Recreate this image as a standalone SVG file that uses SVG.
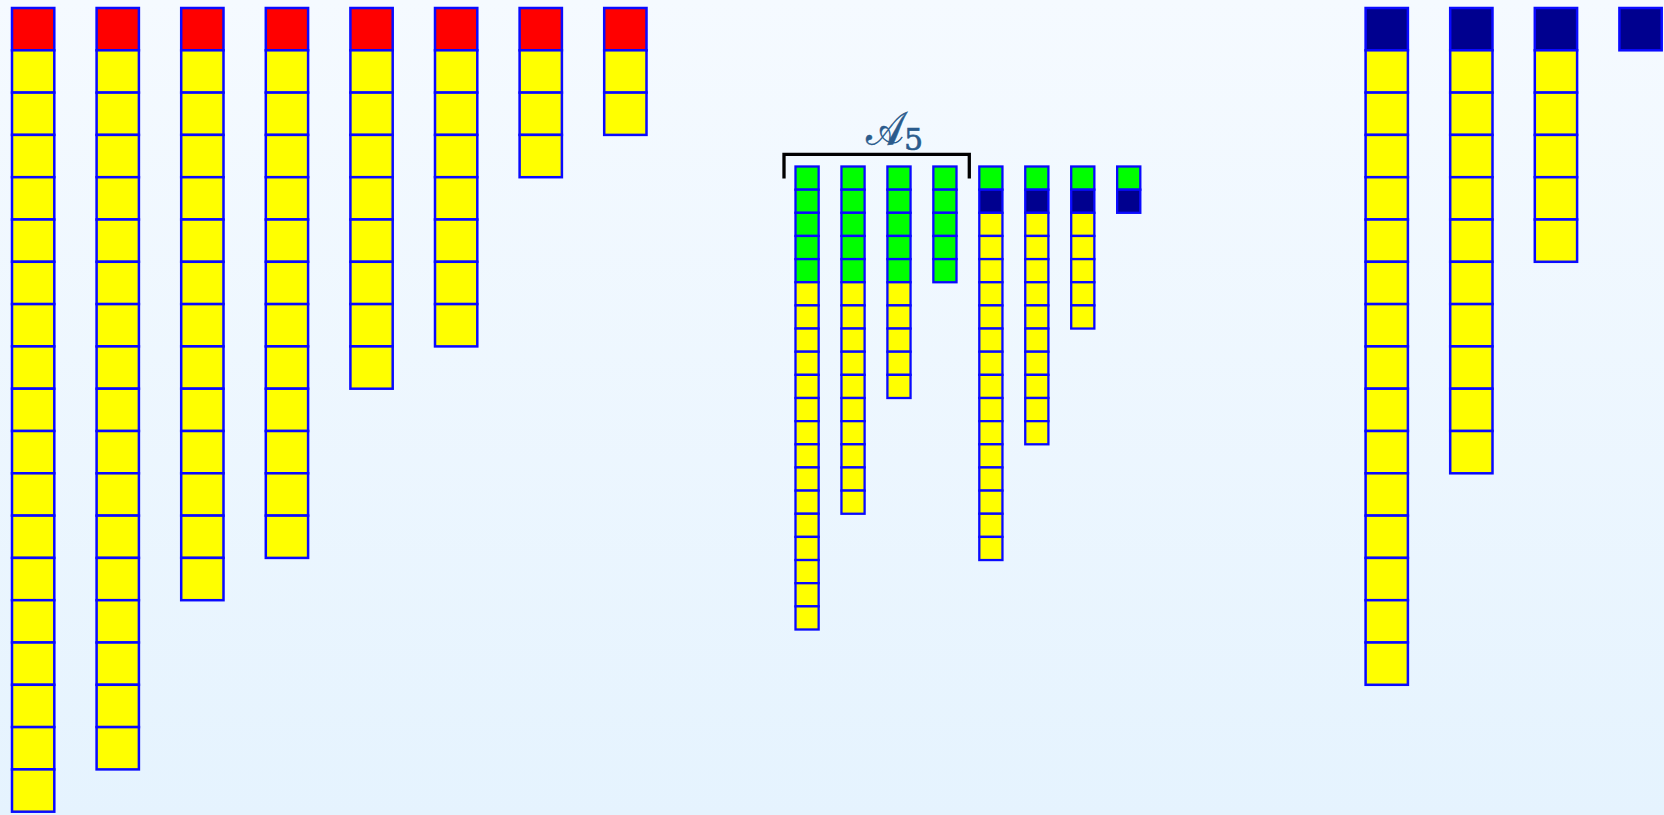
<svg xmlns="http://www.w3.org/2000/svg" xmlns:xlink="http://www.w3.org/1999/xlink" width="1664" height="815" viewBox="0 0 1664 815">
<defs>
<linearGradient id="bg" x1="0" y1="0" x2="0" y2="1">
<stop offset="0" stop-color="#f5faff"/>
<stop offset="1" stop-color="#e5f3fe"/>
</linearGradient>
<rect id="B" width="42.3" height="42.3"/>
<rect id="S" width="23.15" height="23.15"/>
</defs>
<style>
use{stroke:#0a0aff;stroke-width:2.5}
.s use{stroke-width:2.3}
.r{fill:#ff0000}
.y{fill:#ffff00}
.g{fill:#00ff00}
.n{fill:#00008f}
.br{fill:none;stroke:#000;stroke-width:3.3}
.lbl{fill:#2a5b8c;stroke:#2a5b8c;stroke-width:0.6;font-family:"DejaVu Serif","Liberation Serif",serif}
</style>
<rect width="1664" height="815" fill="url(#bg)"/>
<g id="col1" transform="translate(12,0)">
<use href="#B" class="r" y="8"/><use href="#B" class="y" y="50.3"/><use href="#B" class="y" y="92.6"/><use href="#B" class="y" y="134.9"/><use href="#B" class="y" y="177.2"/><use href="#B" class="y" y="219.5"/><use href="#B" class="y" y="261.8"/><use href="#B" class="y" y="304.1"/><use href="#B" class="y" y="346.4"/><use href="#B" class="y" y="388.7"/><use href="#B" class="y" y="431"/><use href="#B" class="y" y="473.3"/><use href="#B" class="y" y="515.6"/><use href="#B" class="y" y="557.9"/><use href="#B" class="y" y="600.2"/><use href="#B" class="y" y="642.5"/><use href="#B" class="y" y="684.8"/><use href="#B" class="y" y="727.1"/><use href="#B" class="y" y="769.4"/>
</g>
<g id="col2" transform="translate(96.6,0)">
<use href="#B" class="r" y="8"/><use href="#B" class="y" y="50.3"/><use href="#B" class="y" y="92.6"/><use href="#B" class="y" y="134.9"/><use href="#B" class="y" y="177.2"/><use href="#B" class="y" y="219.5"/><use href="#B" class="y" y="261.8"/><use href="#B" class="y" y="304.1"/><use href="#B" class="y" y="346.4"/><use href="#B" class="y" y="388.7"/><use href="#B" class="y" y="431"/><use href="#B" class="y" y="473.3"/><use href="#B" class="y" y="515.6"/><use href="#B" class="y" y="557.9"/><use href="#B" class="y" y="600.2"/><use href="#B" class="y" y="642.5"/><use href="#B" class="y" y="684.8"/><use href="#B" class="y" y="727.1"/>
</g>
<g id="col3" transform="translate(181.2,0)">
<use href="#B" class="r" y="8"/><use href="#B" class="y" y="50.3"/><use href="#B" class="y" y="92.6"/><use href="#B" class="y" y="134.9"/><use href="#B" class="y" y="177.2"/><use href="#B" class="y" y="219.5"/><use href="#B" class="y" y="261.8"/><use href="#B" class="y" y="304.1"/><use href="#B" class="y" y="346.4"/><use href="#B" class="y" y="388.7"/><use href="#B" class="y" y="431"/><use href="#B" class="y" y="473.3"/><use href="#B" class="y" y="515.6"/><use href="#B" class="y" y="557.9"/>
</g>
<g id="col4" transform="translate(265.8,0)">
<use href="#B" class="r" y="8"/><use href="#B" class="y" y="50.3"/><use href="#B" class="y" y="92.6"/><use href="#B" class="y" y="134.9"/><use href="#B" class="y" y="177.2"/><use href="#B" class="y" y="219.5"/><use href="#B" class="y" y="261.8"/><use href="#B" class="y" y="304.1"/><use href="#B" class="y" y="346.4"/><use href="#B" class="y" y="388.7"/><use href="#B" class="y" y="431"/><use href="#B" class="y" y="473.3"/><use href="#B" class="y" y="515.6"/>
</g>
<g id="col5" transform="translate(350.4,0)">
<use href="#B" class="r" y="8"/><use href="#B" class="y" y="50.3"/><use href="#B" class="y" y="92.6"/><use href="#B" class="y" y="134.9"/><use href="#B" class="y" y="177.2"/><use href="#B" class="y" y="219.5"/><use href="#B" class="y" y="261.8"/><use href="#B" class="y" y="304.1"/><use href="#B" class="y" y="346.4"/>
</g>
<g id="col6" transform="translate(435,0)">
<use href="#B" class="r" y="8"/><use href="#B" class="y" y="50.3"/><use href="#B" class="y" y="92.6"/><use href="#B" class="y" y="134.9"/><use href="#B" class="y" y="177.2"/><use href="#B" class="y" y="219.5"/><use href="#B" class="y" y="261.8"/><use href="#B" class="y" y="304.1"/>
</g>
<g id="col7" transform="translate(519.6,0)">
<use href="#B" class="r" y="8"/><use href="#B" class="y" y="50.3"/><use href="#B" class="y" y="92.6"/><use href="#B" class="y" y="134.9"/>
</g>
<g id="col8" transform="translate(604.2,0)">
<use href="#B" class="r" y="8"/><use href="#B" class="y" y="50.3"/><use href="#B" class="y" y="92.6"/>
</g>
<g id="label-A5">
<path class="br" d="M784,178.5 V154.3 H969.3 V178.5"/>
<text class="lbl" transform="translate(866,145) scale(0.85,1)" font-size="47">𝒜</text>
<text class="lbl" x="904" y="150" font-size="30">5</text>
</g>
<g id="mcol1" class="s" transform="translate(795.5,0)">
<use href="#S" class="g" y="166.5"/><use href="#S" class="g" y="189.65"/><use href="#S" class="g" y="212.8"/><use href="#S" class="g" y="235.95"/><use href="#S" class="g" y="259.1"/><use href="#S" class="y" y="282.25"/><use href="#S" class="y" y="305.4"/><use href="#S" class="y" y="328.55"/><use href="#S" class="y" y="351.7"/><use href="#S" class="y" y="374.85"/><use href="#S" class="y" y="398"/><use href="#S" class="y" y="421.15"/><use href="#S" class="y" y="444.3"/><use href="#S" class="y" y="467.45"/><use href="#S" class="y" y="490.6"/><use href="#S" class="y" y="513.75"/><use href="#S" class="y" y="536.9"/><use href="#S" class="y" y="560.05"/><use href="#S" class="y" y="583.2"/><use href="#S" class="y" y="606.35"/>
</g>
<g id="mcol2" class="s" transform="translate(841.45,0)">
<use href="#S" class="g" y="166.5"/><use href="#S" class="g" y="189.65"/><use href="#S" class="g" y="212.8"/><use href="#S" class="g" y="235.95"/><use href="#S" class="g" y="259.1"/><use href="#S" class="y" y="282.25"/><use href="#S" class="y" y="305.4"/><use href="#S" class="y" y="328.55"/><use href="#S" class="y" y="351.7"/><use href="#S" class="y" y="374.85"/><use href="#S" class="y" y="398"/><use href="#S" class="y" y="421.15"/><use href="#S" class="y" y="444.3"/><use href="#S" class="y" y="467.45"/><use href="#S" class="y" y="490.6"/>
</g>
<g id="mcol3" class="s" transform="translate(887.4,0)">
<use href="#S" class="g" y="166.5"/><use href="#S" class="g" y="189.65"/><use href="#S" class="g" y="212.8"/><use href="#S" class="g" y="235.95"/><use href="#S" class="g" y="259.1"/><use href="#S" class="y" y="282.25"/><use href="#S" class="y" y="305.4"/><use href="#S" class="y" y="328.55"/><use href="#S" class="y" y="351.7"/><use href="#S" class="y" y="374.85"/>
</g>
<g id="mcol4" class="s" transform="translate(933.35,0)">
<use href="#S" class="g" y="166.5"/><use href="#S" class="g" y="189.65"/><use href="#S" class="g" y="212.8"/><use href="#S" class="g" y="235.95"/><use href="#S" class="g" y="259.1"/>
</g>
<g id="mcol5" class="s" transform="translate(979.3,0)">
<use href="#S" class="g" y="166.5"/><use href="#S" class="n" y="189.65"/><use href="#S" class="y" y="212.8"/><use href="#S" class="y" y="235.95"/><use href="#S" class="y" y="259.1"/><use href="#S" class="y" y="282.25"/><use href="#S" class="y" y="305.4"/><use href="#S" class="y" y="328.55"/><use href="#S" class="y" y="351.7"/><use href="#S" class="y" y="374.85"/><use href="#S" class="y" y="398"/><use href="#S" class="y" y="421.15"/><use href="#S" class="y" y="444.3"/><use href="#S" class="y" y="467.45"/><use href="#S" class="y" y="490.6"/><use href="#S" class="y" y="513.75"/><use href="#S" class="y" y="536.9"/>
</g>
<g id="mcol6" class="s" transform="translate(1025.25,0)">
<use href="#S" class="g" y="166.5"/><use href="#S" class="n" y="189.65"/><use href="#S" class="y" y="212.8"/><use href="#S" class="y" y="235.95"/><use href="#S" class="y" y="259.1"/><use href="#S" class="y" y="282.25"/><use href="#S" class="y" y="305.4"/><use href="#S" class="y" y="328.55"/><use href="#S" class="y" y="351.7"/><use href="#S" class="y" y="374.85"/><use href="#S" class="y" y="398"/><use href="#S" class="y" y="421.15"/>
</g>
<g id="mcol7" class="s" transform="translate(1071.2,0)">
<use href="#S" class="g" y="166.5"/><use href="#S" class="n" y="189.65"/><use href="#S" class="y" y="212.8"/><use href="#S" class="y" y="235.95"/><use href="#S" class="y" y="259.1"/><use href="#S" class="y" y="282.25"/><use href="#S" class="y" y="305.4"/>
</g>
<g id="mcol8" class="s" transform="translate(1117.15,0)">
<use href="#S" class="g" y="166.5"/><use href="#S" class="n" y="189.65"/>
</g>
<g id="rcol1" transform="translate(1365.6,0)">
<use href="#B" class="n" y="8"/><use href="#B" class="y" y="50.3"/><use href="#B" class="y" y="92.6"/><use href="#B" class="y" y="134.9"/><use href="#B" class="y" y="177.2"/><use href="#B" class="y" y="219.5"/><use href="#B" class="y" y="261.8"/><use href="#B" class="y" y="304.1"/><use href="#B" class="y" y="346.4"/><use href="#B" class="y" y="388.7"/><use href="#B" class="y" y="431"/><use href="#B" class="y" y="473.3"/><use href="#B" class="y" y="515.6"/><use href="#B" class="y" y="557.9"/><use href="#B" class="y" y="600.2"/><use href="#B" class="y" y="642.5"/>
</g>
<g id="rcol2" transform="translate(1450.2,0)">
<use href="#B" class="n" y="8"/><use href="#B" class="y" y="50.3"/><use href="#B" class="y" y="92.6"/><use href="#B" class="y" y="134.9"/><use href="#B" class="y" y="177.2"/><use href="#B" class="y" y="219.5"/><use href="#B" class="y" y="261.8"/><use href="#B" class="y" y="304.1"/><use href="#B" class="y" y="346.4"/><use href="#B" class="y" y="388.7"/><use href="#B" class="y" y="431"/>
</g>
<g id="rcol3" transform="translate(1534.8,0)">
<use href="#B" class="n" y="8"/><use href="#B" class="y" y="50.3"/><use href="#B" class="y" y="92.6"/><use href="#B" class="y" y="134.9"/><use href="#B" class="y" y="177.2"/><use href="#B" class="y" y="219.5"/>
</g>
<g id="rcol4" transform="translate(1619.4,0)">
<use href="#B" class="n" y="8"/>
</g>
</svg>
